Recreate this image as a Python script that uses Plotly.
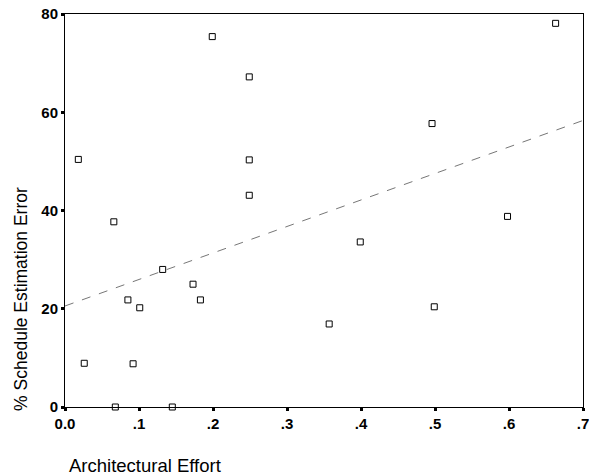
import numpy as np
import plotly.graph_objects as go

# Architectural effort (fraction) vs. % schedule estimation error
arch_effort = [0.018, 0.026, 0.066, 0.068, 0.085, 0.092, 0.101, 0.132, 0.145,
               0.173, 0.183, 0.199, 0.249, 0.249, 0.249, 0.357, 0.399, 0.496,
               0.499, 0.598, 0.663]
sched_error = [50.4, 8.9, 37.7, 0.0, 21.8, 8.8, 20.2, 28.0, 0.0,
               25.0, 21.8, 75.4, 67.2, 50.3, 43.1, 16.9, 33.6, 57.7,
               20.4, 38.8, 78.1]

x_ticks = [0.0, 0.1, 0.2, 0.3, 0.4, 0.5, 0.6, 0.7]
x_tick_text = ["0.0", ".1", ".2", ".3", ".4", ".5", ".6", ".7"]
y_ticks = [0, 20, 40, 60, 80]

# least-squares fit line across the x range
slope, intercept = np.polyfit(arch_effort, sched_error, 1)
fit_x = np.array([0.0, 0.7])
fit_y = intercept + slope * fit_x

fig = go.Figure()
fig.add_trace(go.Scatter(
    x=fit_x, y=fit_y, mode="lines",
    line=dict(color="#666666", width=0.9, dash="dash"),
    hoverinfo="skip", showlegend=False,
))
fig.add_trace(go.Scatter(
    x=arch_effort, y=sched_error, mode="markers",
    marker=dict(symbol="square-open", size=6, color="black",
                line=dict(width=1, color="black")),
    showlegend=False, cliponaxis=False,
))

tick_font = dict(family="Liberation Sans, Arial, sans-serif", size=15, color="black")

fig.update_xaxes(
    range=[0, 0.7], tickvals=x_ticks, ticktext=x_tick_text,
    showgrid=False, zeroline=False, showline=True, linecolor="black",
    linewidth=1, mirror=True, ticks="outside", ticklen=3, tickwidth=3,
    tickcolor="black", tickfont=dict(**tick_font, weight="bold"),
    ticklabeloverflow="allow", automargin=False,
)
fig.update_yaxes(
    range=[0, 80], tickvals=y_ticks,
    showgrid=False, zeroline=False, showline=True, linecolor="black",
    linewidth=1, mirror=True, ticks="outside", ticklen=3, tickwidth=3,
    tickcolor="black", tickfont=dict(**tick_font, weight="bold"),
    ticklabeloverflow="allow", automargin=False,
)

fig.add_annotation(
    text="Architectural Effort", xref="paper", yref="paper",
    x=0.004, y=-0.150, xanchor="left", yanchor="middle",
    showarrow=False,
    font=dict(family="Liberation Sans, Arial, sans-serif", size=18.5, color="black"),
)
fig.add_annotation(
    text="% Schedule Estimation Error", xref="paper", yref="paper",
    x=-0.085, y=0.275, xanchor="center", yanchor="middle", textangle=-90,
    showarrow=False,
    font=dict(family="Liberation Sans, Arial, sans-serif", size=17.5, color="black"),
)

fig.update_layout(
    width=589, height=476,
    margin=dict(l=65, r=6, t=14, b=69, autoexpand=False),
    paper_bgcolor="white", plot_bgcolor="white",
)

fig.write_html("out.html")
